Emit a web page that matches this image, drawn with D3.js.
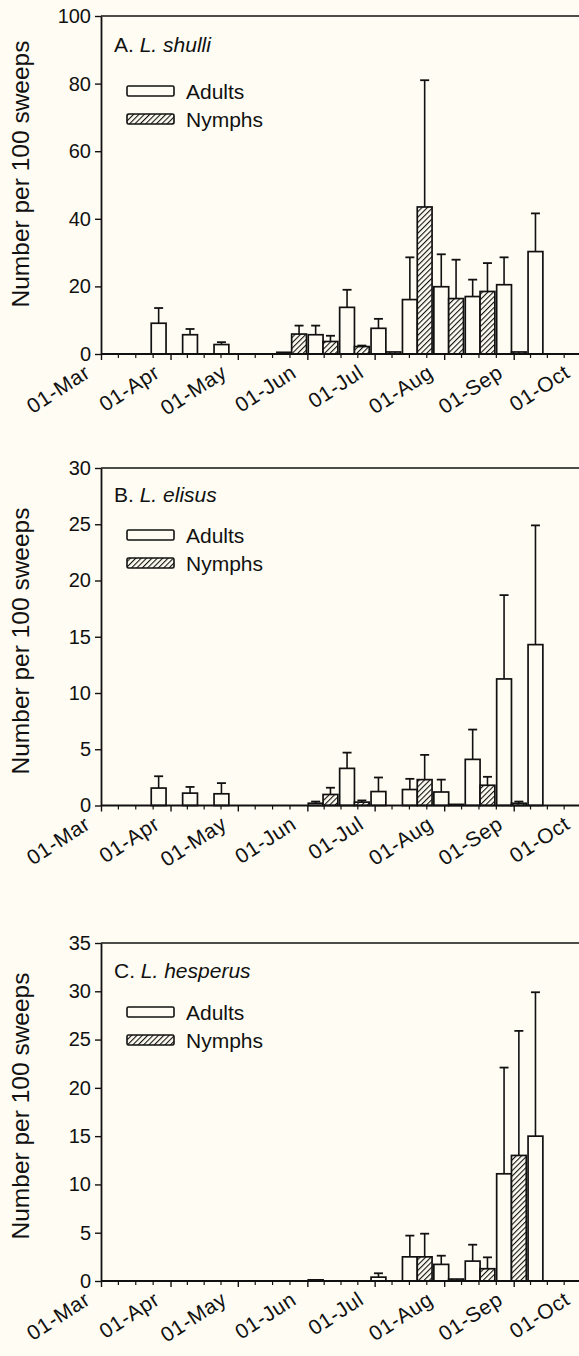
<!DOCTYPE html>
<head>
    <title>Seasonal abundance, adults and nymphs</title>
</head>
<meta charset="utf-8">

<script src="https://d3js.org/d3.v7.min.js"></script>

<style>
  body { margin: 0; background: #fffdf3; }
  text { font-family: "Liberation Sans", Arial, sans-serif; fill: #111; }
</style>

<div id="my_dataviz"></div>
<body>
    <script>

    // biweekly sampling dates
    var sampleDates = ["03-30","04-13","04-27","05-11","05-25","06-08","06-22",
                       "07-06","07-20","08-03","08-17","08-31","09-14"]

    // A. L. shulli
    var shulliAdults   = [9.1, 5.7, 2.8, 0, 0.5, 5.7, 13.8, 7.6, 16.1, 19.9, 17.0, 20.5, 30.3]
    var shulliAdultsSE = [4.5, 1.7, 0.7, 0, 0, 2.7, 5.2, 2.8, 12.5, 9.6, 5.0, 8.1, 11.3]
    var shulliNymphs   = [0, 0, 0, 0, 5.9, 3.7, 2.2, 0.6, 43.5, 16.4, 18.5, 0.6, 0]
    var shulliNymphsSE = [0, 0, 0, 0, 2.5, 1.7, 0.3, 0, 37.5, 11.5, 8.4, 0, 0]

    // B. L. elisus
    var elisusAdults   = [1.55, 1.1, 1.04, 0, 0, 0.2, 3.3, 1.24, 1.42, 1.2, 4.1, 11.25, 14.3]
    var elisusAdultsSE = [1.05, 0.55, 0.95, 0, 0, 0.15, 1.4, 1.25, 0.95, 1.1, 2.65, 7.45, 10.6]
    var elisusNymphs   = [0, 0, 0, 0, 0, 0.98, 0.3, 0, 2.3, 0.1, 1.8, 0.2, 0]
    var elisusNymphsSE = [0, 0, 0, 0, 0, 0.6, 0.15, 0, 2.2, 0, 0.75, 0.15, 0]

    // C. L. hesperus
    var hesperusAdults   = [0, 0, 0, 0, 0, 0.12, 0, 0.4, 2.5, 1.72, 2.06, 11.1, 15.0]
    var hesperusAdultsSE = [0, 0, 0, 0, 0, 0, 0, 0.4, 2.2, 0.9, 1.7, 11.0, 14.9]
    var hesperusNymphs   = [0, 0, 0, 0, 0, 0, 0, 0, 2.5, 0.2, 1.27, 13.0, 0]
    var hesperusNymphsSE = [0, 0, 0, 0, 0, 0, 0, 0, 2.4, 0, 1.18, 12.9, 0]

    var monthTicks = ["03-01","04-01","05-01","06-01","07-01","08-01","09-01","10-01"]

    var panels = [
      {letter: "A", species: "L. shulli", max: 100, step: 20,
       adults: shulliAdults, adultsSE: shulliAdultsSE, nymphs: shulliNymphs, nymphsSE: shulliNymphsSE,
       top: 16, bottom: 354, labelY: 52, legY: 91, titleY: 174},
      {letter: "B", species: "L. elisus", max: 30, step: 5,
       adults: elisusAdults, adultsSE: elisusAdultsSE, nymphs: elisusNymphs, nymphsSE: elisusNymphsSE,
       top: 468, bottom: 805.5, labelY: 502, legY: 535, titleY: 641},
      {letter: "C", species: "L. hesperus", max: 35, step: 5,
       adults: hesperusAdults, adultsSE: hesperusAdultsSE, nymphs: hesperusNymphs, nymphsSE: hesperusNymphsSE,
       top: 943, bottom: 1281, labelY: 978, legY: 1012, titleY: 1106}
    ]

    var W = 579, H = 1356
    var parse = function(s) { return d3.timeParse("%Y-%m-%d")("2003-" + s) }
    var dates = sampleDates.map(parse)
    var barDays = 6.6
    var shift = function(d, days) { return new Date(d.getTime() + days * 864e5) }

    var svg = d3.select("#my_dataviz")
      .append("svg")
        .attr("width", W)
        .attr("height", H)

    svg.append("rect").attr("width", W).attr("height", H).attr("fill", "#fffdf3")

    var defs = svg.append("defs")
    defs.append("pattern")
        .attr("id", "hatch")
        .attr("patternUnits", "userSpaceOnUse")
        .attr("width", 3.8).attr("height", 3.8)
        .attr("patternTransform", "rotate(45)")
      .call(function(p) {
        p.append("rect").attr("width", 3.8).attr("height", 3.8).attr("fill", "#fffdf3")
        p.append("line").attr("x1", 0).attr("y1", 0).attr("x2", 0).attr("y2", 3.8)
          .attr("stroke", "#111").attr("stroke-width", 2.2)
      })

    var x = d3.scaleTime()
      .domain([parse("03-01"), parse("10-01")])
      .range([101, 581])

    panels.forEach(function(P) {
      var g = svg.append("g")

      var y = d3.scaleLinear()
        .domain([0, P.max])
        .range([P.bottom, P.top])

      // frame: top line
      g.append("line")
        .attr("x1", 101).attr("x2", W + 5)
        .attr("y1", P.top).attr("y2", P.top)
        .attr("stroke", "#111").attr("stroke-width", 1.6)

      // y axis
      var yAxis = g.append("g")
        .attr("transform", "translate(101,0)")
        .call(d3.axisLeft(y).tickValues(d3.range(0, P.max + 1, P.step)).tickSize(6).tickSizeOuter(0).tickPadding(4))
      yAxis.select(".domain").attr("stroke", "#111").attr("stroke-width", 1.8)
      yAxis.selectAll(".tick line").attr("stroke", "#111").attr("stroke-width", 1.4)
      yAxis.selectAll("text").style("font-size", "20px").attr("font-family", null)

      // y title
      g.append("text")
        .attr("transform", "translate(29," + P.titleY + ") rotate(-90)")
        .attr("text-anchor", "middle")
        .style("font-size", "24.5px")
        .text("Number per 100 sweeps")

      // bars
      var rows = dates.map(function(d, i) {
        return {date: d, a: P.adults[i], ase: P.adultsSE[i], n: P.nymphs[i], nse: P.nymphsSE[i]}
      })

      var bars = []
      rows.forEach(function(r) {
        if (r.a > 0) bars.push({x0: shift(r.date, -barDays), x1: r.date, v: r.a, se: r.ase, fill: "#fffdf3"})
        if (r.n > 0) bars.push({x0: r.date, x1: shift(r.date, barDays), v: r.n, se: r.nse, fill: "url(#hatch)"})
      })

      g.selectAll("rect.bar")
        .data(bars).enter()
        .append("rect")
          .attr("class", "bar")
          .attr("x", function(d) { return x(d.x0) })
          .attr("width", function(d) { return x(d.x1) - x(d.x0) })
          .attr("y", function(d) { return y(d.v) })
          .attr("height", function(d) { return y(0) - y(d.v) })
          .attr("fill", function(d) { return d.fill })
          .attr("stroke", "#111")
          .attr("stroke-width", 1.7)

      var eb = bars.filter(function(d) { return d.se > 0 })
      var cx = function(d) { return (x(d.x0) + x(d.x1)) / 2 }
      g.selectAll("line.err")
        .data(eb).enter()
        .append("line")
          .attr("x1", cx).attr("x2", cx)
          .attr("y1", function(d) { return y(d.v) })
          .attr("y2", function(d) { return y(d.v + d.se) })
          .attr("stroke", "#111").attr("stroke-width", 1.6)
      g.selectAll("line.cap")
        .data(eb).enter()
        .append("line")
          .attr("x1", function(d) { return cx(d) - 4.5 }).attr("x2", function(d) { return cx(d) + 4.5 })
          .attr("y1", function(d) { return y(d.v + d.se) })
          .attr("y2", function(d) { return y(d.v + d.se) })
          .attr("stroke", "#111").attr("stroke-width", 1.8)

      // x axis
      var majors = monthTicks.map(parse)
      var minors = []
      for (var i = 0; i < majors.length - 1; i++) {
        for (var k = 1; k < 4; k++) {
          minors.push(new Date(majors[i].getTime() + (majors[i + 1] - majors[i]) * k / 4))
        }
      }

      var xAxis = g.append("g")
        .attr("transform", "translate(0," + P.bottom + ")")
        .call(d3.axisBottom(x).tickValues(majors).tickSize(6).tickSizeOuter(0).tickFormat(d3.timeFormat("%d-%b")))
      xAxis.select(".domain").attr("d", "M101,0H" + (W + 5)).attr("stroke", "#111").attr("stroke-width", 1.8)
      xAxis.selectAll(".tick line").attr("stroke", "#111").attr("stroke-width", 1.4)
      xAxis.selectAll("text")
        .attr("font-family", null)
        .style("font-size", "21px")
        .style("letter-spacing", "0.6px")
        .attr("text-anchor", "end")
        .attr("dy", null)
        .attr("y", null)
        .attr("transform", "translate(-10,22) rotate(-33)")

      xAxis.selectAll("line.minor")
        .data(minors).enter()
        .append("line")
          .attr("class", "minor")
          .attr("x1", function(d) { return x(d) }).attr("x2", function(d) { return x(d) })
          .attr("y1", 0).attr("y2", 4)
          .attr("stroke", "#111").attr("stroke-width", 1.2)

      // panel label
      var lab = g.append("text")
        .attr("x", 114).attr("y", P.labelY)
        .style("font-size", "21px")
      lab.append("tspan").text(P.letter + ". ")
      lab.append("tspan").style("font-style", "italic").text(P.species)

      // legend
      var leg = [{name: "Adults", fill: "#fffdf3"}, {name: "Nymphs", fill: "url(#hatch)"}]
      leg.forEach(function(l, j) {
        var ly = P.legY + j * 28
        g.append("rect")
          .attr("x", 127).attr("y", ly - 5).attr("width", 47).attr("height", 10)
          .attr("rx", 1.5)
          .attr("fill", l.fill).attr("stroke", "#111").attr("stroke-width", 1.6)
        g.append("text")
          .attr("x", 186).attr("y", ly + 8)
          .style("font-size", "21px")
          .text(l.name)
      })
    })

</script>
</body>
